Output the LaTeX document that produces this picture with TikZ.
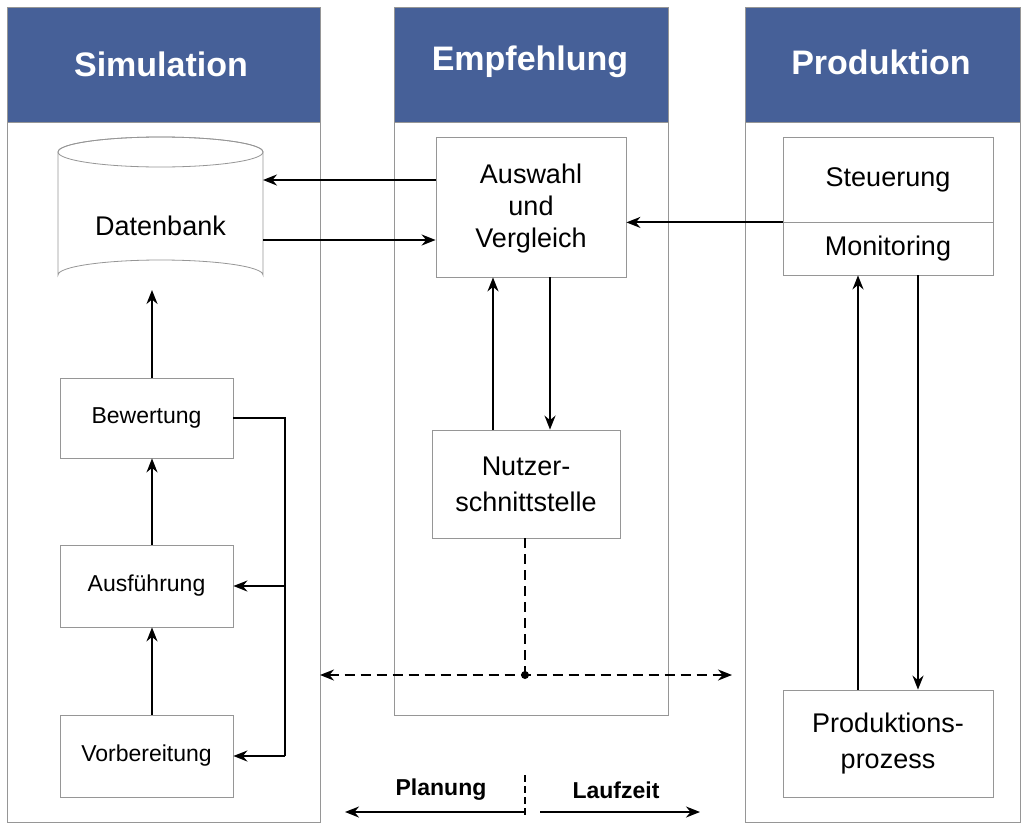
\documentclass[tikz,border=0pt]{standalone}
\usepackage{fontspec}
\setmainfont{Liberation Sans}
\usetikzlibrary{shapes.geometric,arrows.meta,positioning}
\definecolor{myblue}{RGB}{70,96,152}
\definecolor{mygray}{RGB}{150,150,150}

\begin{document}
\begin{tikzpicture}[
  x=1pt, y=-1pt,
  thick,
  mypanel/.style={draw=mygray, line width=0.8pt},
  myhead/.style={fill=myblue, draw=mygray, line width=0.8pt},
  mytitle/.style={text=white, font=\fontsize{34}{40}\selectfont\bfseries},
  mybox/.style={draw=mygray, line width=0.8pt, fill=white, align=center,
    font=\fontsize{27}{36}\selectfont},
  mysmall/.style={mybox, font=\fontsize{23}{28}\selectfont},
  myarrow/.style={-{Stealth[length=14pt,width=11pt]}, line width=2pt},
  mydash/.style={dash pattern=on 10pt off 6pt, line width=2pt}
]
\useasboundingbox (0,0) rectangle (1024,827);

% panels
\draw[mypanel] (7,7) rectangle (320,822);
\draw[mypanel] (394,7) rectangle (668,715);
\draw[mypanel] (745,7) rectangle (1020,822);
\draw[myhead] (7,7) rectangle (320,122);
\draw[myhead] (394,7) rectangle (668,122);
\draw[myhead] (745,7) rectangle (1020,122);
\node[mytitle] (tsim) at (161,64) {Simulation};
\node[mytitle] (temp) at (530,62) {Empfehlung};
\node[mytitle] (tprod) at (881,62) {Produktion};

% Simulation
\draw[draw=mygray, line width=0.8pt, fill=white]
  (58,152) -- (58,275) arc[start angle=180, end angle=360, x radius=102.5, y radius=15]
  -- (263,152) arc[start angle=0, end angle=-180, x radius=102.5, y radius=15];
\draw[draw=mygray, line width=0.8pt] (160.5,152) ellipse[x radius=102.5, y radius=15];
\node[font=\fontsize{27}{36}\selectfont] (db) at (160.5,226) {Datenbank};
\coordinate (dbs) at (152,290);
\node[mysmall, minimum width=173pt, minimum height=80pt] (bew) at (146.5,418) {Bewertung};
\node[mysmall, minimum width=173pt, minimum height=82pt] (aus) at (146.5,586) {Ausführung};
\node[mysmall, minimum width=173pt, minimum height=82pt] (vor) at (146.5,756) {Vorbereitung};

% Empfehlung
\node[mybox, minimum width=190pt, minimum height=140pt, text depth=2pt] (wahl) at (531,207) {Auswahl\\[-4pt]und\\[-4pt]Vergleich};
\node[mybox, minimum width=188pt, minimum height=108pt] (nutz) at (526,484) {Nutzer-\\schnittstelle};

% Produktion
\node[mybox, minimum width=210pt, minimum height=85pt] (steu) at (888,179.5) {Steuerung};
\node[mybox, minimum width=210pt, minimum height=53pt] (moni) at (888,248.5) {Monitoring};
\node[mybox, minimum width=210pt, minimum height=107pt] (proz) at (888,743.5) {Produktions-\\prozess};

% connectors
\draw[myarrow] (wahl.west |- 0,180) -- (263,180);
\draw[myarrow] (263,240) -- (wahl.west |- 0,240);
\draw[myarrow] (steu.south west) -- (wahl.east |- steu.south west);
\draw[myarrow] (nutz.north -| 493,0) -- (wahl.south -| 493,0);
\draw[myarrow] (wahl.south -| 550,0) -- (nutz.north -| 550,0);
\draw[myarrow] (moni.south -| 918,0) -- (proz.north -| 918,0);
\draw[myarrow] (proz.north -| 858,0) -- (moni.south -| 858,0);
\draw[myarrow] (bew.north -| dbs) -- (dbs);
\draw[myarrow] (aus.north -| 152,0) -- (bew.south -| 152,0);
\draw[myarrow] (vor.north -| 152,0) -- (aus.south -| 152,0);
\coordinate (fb) at (285,418);
\draw[line width=2pt] (bew.east) -- (fb) -- (285,756);
\draw[myarrow] (285,586) -- (aus.east);
\draw[myarrow] (285,756) -- (vor.east);

% dashed
\coordinate (dot) at (525,675);
\draw[mydash] (nutz.south -| dot) -- (dot);
\fill (dot) circle (4pt);
\draw[mydash, {Stealth[length=14pt,width=11pt]}-{Stealth[length=14pt,width=11pt]}] (320,675) -- (732,675);

% bottom
\coordinate (mid) at (525,775);
\draw[dash pattern=on 7pt off 4pt, line width=1.2pt] (mid) -- (525,818);
\draw[myarrow] (525,812) -- (345,812);
\draw[myarrow] (540,812) -- (700,812);
\node[font=\fontsize{23}{28}\selectfont\bfseries] (plan) at (441,790) {Planung};
\node[font=\fontsize{23}{28}\selectfont\bfseries] (lauf) at (616,790) {Laufzeit};
\end{tikzpicture}
\end{document}
